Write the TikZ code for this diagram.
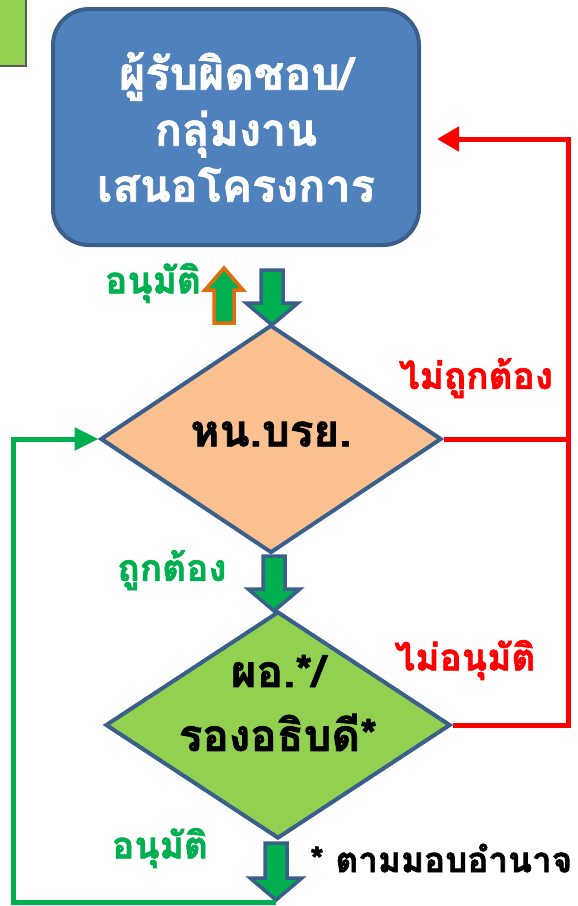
\documentclass[tikz,border=0pt]{standalone}
\usepackage{fontspec}
\newfontfamily\thaifont[Script=Thai, BoldFeatures={FakeBold=1.6}]{Loma}
\usetikzlibrary{shapes.geometric,arrows.meta}
\definecolor{boxblue}{HTML}{4F81BD}
\definecolor{boxedge}{HTML}{3A5F8B}
\definecolor{peach}{HTML}{FAC090}
\definecolor{lime}{HTML}{92D050}
\definecolor{thgreen}{HTML}{00B050}
\definecolor{thred}{HTML}{FF0000}
\definecolor{thorange}{HTML}{E46C0A}
\tikzset{
  decision/.style={diamond, draw=boxedge, line width=4pt, inner sep=0pt, font=\thaifont\bfseries\fontsize{44}{52}\selectfont},
  lbl/.style={inner sep=0pt, font=\thaifont\bfseries\fontsize{37}{44}\selectfont},
  redline/.style={draw=thred, line width=5pt},
  greenline/.style={draw=thgreen, line width=5pt},
  downarr/.pic={
    \draw[boxedge, line width=3.5pt, fill=thgreen, line join=miter]
      (-11,0) -- (11,0) -- (11,#1-22) -- (26,#1-22) -- (0,#1) -- (-26,#1-22) -- (-11,#1-22) -- cycle;
    \coordinate (-tip) at (0,#1);
  },
  uparr/.pic={
    \draw[thorange, line width=3.5pt, fill=thgreen, line join=miter]
      (-10,0) -- (10,0) -- (10,-33) -- (19,-33) -- (0,-55) -- (-19,-33) -- (-10,-33) -- cycle;
  }
}
\begin{document}
\begin{tikzpicture}[x=1pt,y=-1pt]
\useasboundingbox (0,0) rectangle (578,906);
% corner green rectangle
\draw[fill=lime, draw=gray!70!black, line width=1.5pt] (-10,-10) rectangle (26,66);
% box
\node[draw=boxedge, fill=boxblue, line width=4pt, rounded corners=36pt,
      minimum width=366pt, minimum height=236pt, text=white, align=center,
      font=\thaifont\bfseries\fontsize{45}{56}\selectfont] (box) at (236,127)
      {ผู้รับผิดชอบ/\\กลุ่มงาน\\เสนอโครงการ};
% decisions
\node[decision, fill=peach, minimum width=341pt, minimum height=228pt] (d1) at (271,439) {};
\node[inner sep=0pt, font=\thaifont\bfseries\fontsize{44}{52}\selectfont] (d1t) at (271,434) {หน.บรย.};
\node[decision, fill=lime, minimum width=345pt, minimum height=227pt] (d2) at (278,725) {};
\node[align=center, inner sep=0pt, font=\thaifont\bfseries\fontsize{44}{64}\selectfont] (d2t) at (278,703) {ผอ.*/\\รองอธิบดี*};
% block arrows
\pic (a1) at (272,270) {downarr=55};
\pic (u1) at (224,323) {uparr};
\pic (a2) at (274,556) {downarr=55};
\pic (a3) at (276,843) {downarr=57};
% labels
\node[lbl, text=thgreen] (l1) at (153,283) {อนุมัติ};
\node[lbl, text=thred] (l2) at (476,378) {ไม่ถูกต้อง};
\node[lbl, text=thgreen] (l3) at (172,570) {ถูกต้อง};
\node[lbl, text=thred] (l4) at (465,660) {ไม่อนุมัติ};
\node[lbl, text=thgreen] (l5) at (160,848) {อนุมัติ};
\node[lbl, anchor=west, font=\thaifont\bfseries\fontsize{35}{44}\selectfont] (l6) at (310,858) {* ตามมอบอำนาจ};
% red feedback
\coordinate (rtop) at (568,139);
\draw[redline, line join=miter] (d1.east) -- (d1.east -| rtop);
\draw[redline, line join=miter, -{Triangle[length=22pt,width=24pt]}]
  (d2.east) -- (d2.east -| rtop) -- (rtop) -- ([xshift=16pt]box.east |- rtop);
% green loop
\coordinate (gl) at (13,902);
\draw[greenline, line join=miter, -{Triangle[length=24pt,width=22pt]}]
  (a3-tip |- gl) -- (gl) -- (gl |- d1.west) -- (d1.west);
\end{tikzpicture}
\end{document}
